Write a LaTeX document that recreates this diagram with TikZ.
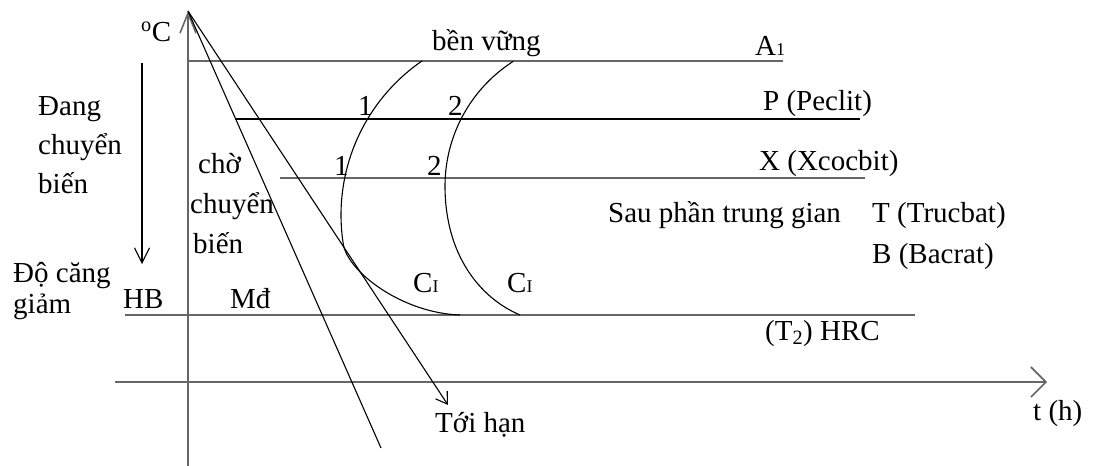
\documentclass[tikz,border=0pt]{standalone}
\usepackage{fontspec}
\setmainfont{Liberation Serif}
\usetikzlibrary{arrows.meta}
\begin{document}
\begin{tikzpicture}[x=1pt,y=-1pt,
  txt/.style={anchor=base west,inner sep=0pt,font=\fontsize{29}{34}\selectfont},
  grayline/.style={draw=black!60,line width=1.6pt},
  thin/.style={draw=black,line width=1.1pt},
]
\useasboundingbox (0,0) rectangle (1093,466);
\newcommand{\sm}[1]{{\fontsize{18}{18}\selectfont #1}}
% axes
\coordinate (vtop) at (188,11);
\coordinate (vbot) at (188,466);
\coordinate (hl) at (115,382);
\coordinate (hr) at (1047,382);
\draw[grayline,-{Straight Barb[length=20pt,width=16pt]}] (vbot) -- (vtop);
\draw[grayline,-{Straight Barb[length=15pt,width=30pt]}] (hl) -- (hr);
% horizontal levels
\coordinate (a1l) at (188,61);  \coordinate (a1r) at (783,61);
\coordinate (pl) at (235,119);  \coordinate (pr) at (860,119);
\coordinate (xl) at (280,178);  \coordinate (xr) at (865,178);
\coordinate (hbl) at (125,315); \coordinate (hbr) at (915,315);
\draw[grayline] (a1l) -- (a1r);
\draw[thin] (pl) -- (pr);
\draw[grayline] (xl) -- (xr);
\draw[grayline] (hbl) -- (hbr);
% diagonals
\coordinate (d1) at (381,448);
\coordinate (d2) at (448,405);
\draw[thin] (vtop) -- (d1);
\draw[thin,-{Straight Barb[length=11pt,width=14pt]}] (vtop) -- (d2);
% left arrow
\coordinate (la1) at (142,63);
\coordinate (la2) at (142,264);
\draw[thin,-{Straight Barb[length=15pt,width=15pt]}] (la1) -- (la2);
% curve 1: circular arc then bend to the HB line
\coordinate (c1end) at (460,315);
\draw[thin] plot[domain=124.5:189,samples=40,variable=\t] ({528+187*cos(\t)},{215-187*sin(\t)})
  .. controls (348,272) and (402,313) .. (c1end);
% curve 2
\coordinate (c2end) at (520,315);
\draw[thin] plot[domain=122.6:180,samples=40,variable=\t] ({593+148*cos(\t)},{186-148*sin(\t)})
  .. controls (445,255) and (480,298) .. (c2end);
% texts
\node[txt] (degC) at (141,41) {\textsuperscript{o}C};
\node[txt] (ben) at (432,50) {bền vững};
\node[txt] (A1) at (755,55) {A\sm{1}};
\node[txt] (P) at (763,110) {P (Peclit)};
\node[txt] (X) at (759,170) {X (Xcocbit)};
\node[txt] (sau) at (608,222) {Sau phần trung gian};
\node[txt] (T) at (872,222) {T (Trucbat)};
\node[txt] (B) at (872,263) {B (Bacrat)};
\node[txt] (hrc) at (765,340) {(T\textsubscript{2}) HRC};
\node[txt] (th) at (1033,420) {t (h)};
\node[txt] (toi) at (435,432) {Tới hạn};
\node[txt] (dang1) at (38,115) {Đang};
\node[txt] (dang2) at (38,154) {chuyển};
\node[txt] (dang3) at (38,193) {biến};
\node[txt] (cho1) at (198,173) {chờ};
\node[txt] (cho2) at (190,213) {chuyển};
\node[txt] (cho3) at (193,253) {biến};
\node[txt] (do1) at (13,282) {Độ căng};
\node[txt] (do2) at (13,313) {giảm};
\node[txt] (HB) at (123,308) {HB};
\node[txt] (Md) at (230,308) {Mđ};
\node[txt] (n11) at (358,115) {1};
\node[txt] (n12) at (448,115) {2};
\node[txt] (n21) at (334,175) {1};
\node[txt] (n22) at (427,175) {2};
\node[txt] (c1) at (413,292) {C\sm{I}};
\node[txt] (c2) at (507,292) {C\sm{I}};
\end{tikzpicture}
\end{document}
